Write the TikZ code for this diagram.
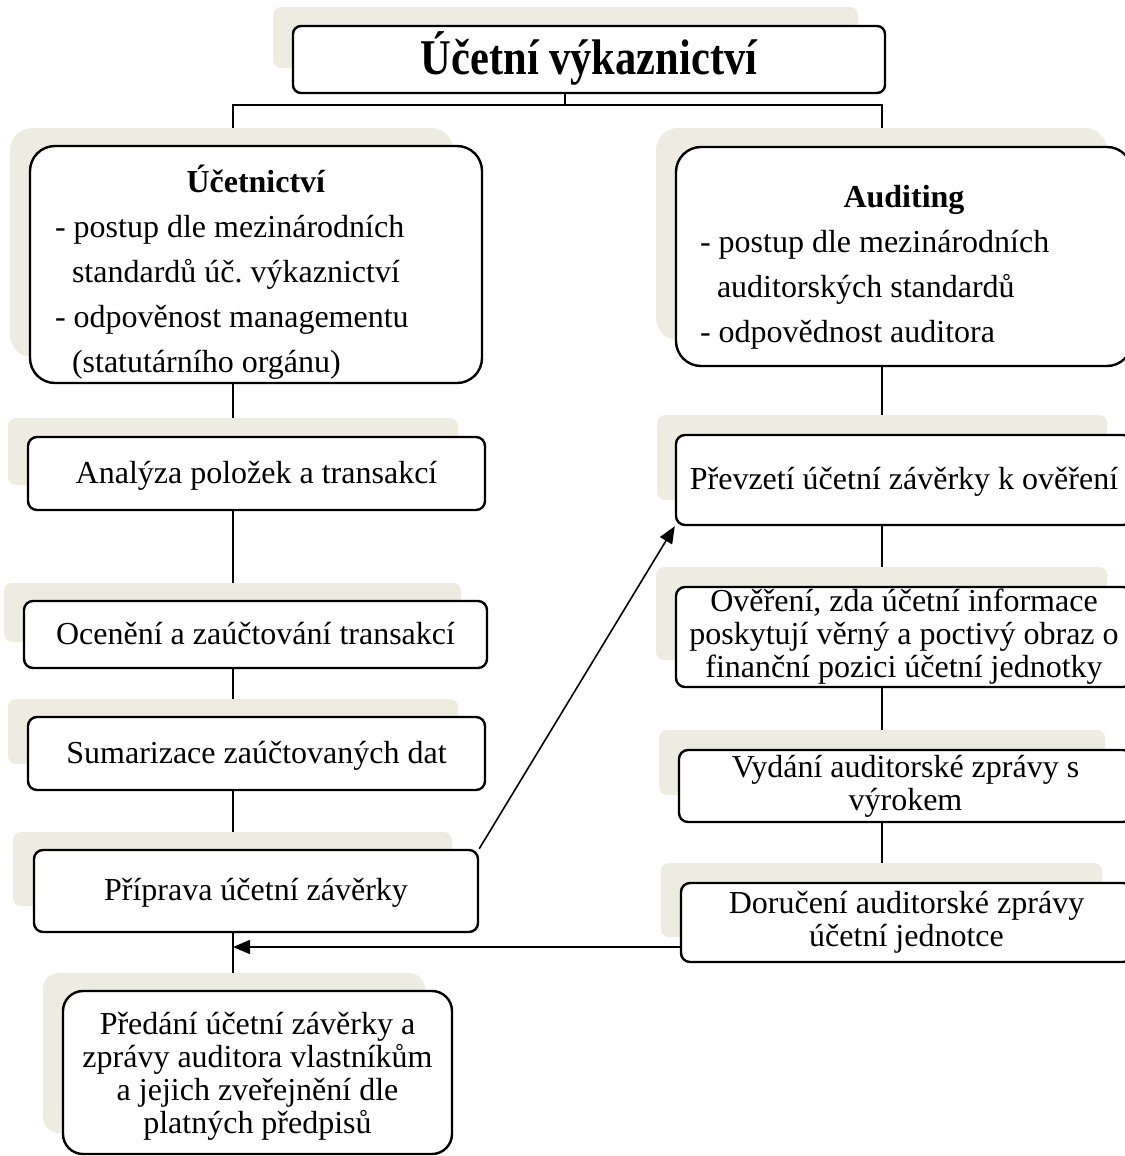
\documentclass[tikz,border=0pt]{standalone}
\usepackage{fontspec}
\usepackage{graphicx}
\setmainfont{Liberation Serif}
\usetikzlibrary{arrows.meta}
\definecolor{shade}{HTML}{EEECE1}
\pgfdeclarelayer{lines}
\pgfdeclarelayer{shades}
\pgfsetlayers{lines,shades,main}
\frenchspacing
\begin{document}
\begin{tikzpicture}[x=1pt,y=-1pt,
  box/.style={draw=black, line width=2.4pt, fill=white, rounded corners=9pt,
    inner sep=0pt, font=\fontsize{32}{33}\selectfont, align=center},
  oneline/.style={text height=26pt, text depth=7pt},
  shadowbox/.style={fill=shade, rounded corners=8pt},
  conn/.style={line width=2.2pt},
  arr/.style={line width=1.6pt, -{Triangle[length=17pt,width=14pt]}},
]
\useasboundingbox (0,0) rectangle (1124,1156);

% title
\node[box, rounded corners=8pt, minimum width=592pt, minimum height=67pt,
      text height=42pt, text depth=12pt, font=\fontsize{50}{52}\selectfont\bfseries]
  (title) at (589,59.5) {\scalebox{0.85}[1]{Účetní výkaznictví}};

% left column
\node[box, rounded corners=25pt, minimum width=452pt, minimum height=235pt,
      text width=402pt, align=flush left, font=\fontsize{32}{45}\selectfont\frenchspacing,
      text height=46pt, text depth=191pt]
  (ucet) at (256,264.5)
  {\hfill\textbf{Účetnictví}\hfill\null\\
   - postup dle mezinárodních\\
   \hspace*{17pt}standardů úč. výkaznictví\\
   - odpověnost managementu\\
   \hspace*{17pt}(statutárního orgánu)};
\node[box, oneline, minimum width=457pt, minimum height=73pt] (anal) at (256.5,473.5)
  {Analýza položek a transakcí};
\node[box, oneline, minimum width=463pt, minimum height=67pt] (ocen) at (255.5,634.5)
  {Ocenění a zaúčtování transakcí};
\node[box, oneline, minimum width=457pt, minimum height=73pt] (sum) at (256.5,753.5)
  {Sumarizace zaúčtovaných dat};
\node[box, oneline, minimum width=444pt, minimum height=82pt] (prip) at (256,891)
  {Příprava účetní závěrky};
\node[box, rounded corners=20pt, minimum width=389pt, minimum height=163pt] (pred) at (257.5,1072.5)
  {\rule{0pt}{30pt}Předání účetní závěrky a\\zprávy auditora vlastníkům\\a jejich zveřejnění dle\\platných předpisů};

% right column
\node[box, rounded corners=25pt, minimum width=456pt, minimum height=219pt,
      text width=408pt, align=flush left, font=\fontsize{32}{45}\selectfont\frenchspacing,
      text height=46pt, text depth=145pt]
  (aud) at (904,256.5)
  {\hfill\textbf{Auditing}\hfill\null\\
   - postup dle mezinárodních\\
   \hspace*{17pt}auditorských standardů\\
   - odpovědnost auditora};
\node[box, oneline, minimum width=456pt, minimum height=90pt] (prev) at (904,480)
  {Převzetí účetní závěrky k ověření};
\node[box, minimum width=456pt, minimum height=100pt] (over) at (904,637)
  {Ověření, zda účetní informace\\poskytují věrný a poctivý obraz o\\finanční pozici účetní jednotky};
\node[box, minimum width=453pt, minimum height=72pt] (vyd) at (905.5,786)
  {Vydání auditorské zprávy s\\výrokem};
\node[box, minimum width=451pt, minimum height=79pt] (dor) at (906.5,922.5)
  {Doručení auditorské zprávy\\účetní jednotce};

% helper coordinates
\coordinate (colL) at (233,0);
\coordinate (colR) at (882,0);
\coordinate (tj) at (565,105);
\coordinate (ae) at (233,947);

% shadows
\begin{pgfonlayer}{shades}
  \fill[shadowbox] (273,7) rectangle (858,68);
  \fill[shadowbox, rounded corners=22pt] (10,128) rectangle (453,357);
  \fill[shadowbox] (8,418) rectangle (458,485);
  \fill[shadowbox] (4,583) rectangle (461,642);
  \fill[shadowbox] (8,699) rectangle (458,764);
  \fill[shadowbox] (13,832) rectangle (452,906);
  \fill[shadowbox, rounded corners=16pt] (43,973) rectangle (425,1133);
  \fill[shadowbox, rounded corners=22pt] (656,128) rectangle (1107,340);
  \fill[shadowbox] (657,415) rectangle (1107,500);
  \fill[shadowbox] (656,567) rectangle (1107,660);
  \fill[shadowbox] (659,730) rectangle (1105,795);
  \fill[shadowbox] (661,863) rectangle (1102,937);
\end{pgfonlayer}

% connectors
\begin{pgfonlayer}{lines}
  \draw[conn] (tj |- title.south) -- (tj);
  \draw[conn] (colL |- ucet.north) -- (colL |- tj) -- (colR |- tj) -- (colR |- aud.north);
  \draw[conn] (colL |- ucet.south) -- (colL |- anal.north);
  \draw[conn] (colL |- anal.south) -- (colL |- ocen.north);
  \draw[conn] (colL |- ocen.south) -- (colL |- sum.north);
  \draw[conn] (colL |- sum.south) -- (colL |- prip.north);
  \draw[conn] (colL |- prip.south) -- (colL |- pred.north);
  \draw[conn] (colR |- aud.south) -- (colR |- prev.north);
  \draw[conn] (colR |- prev.south) -- (colR |- over.north);
  \draw[conn] (colR |- over.south) -- (colR |- vyd.north);
  \draw[conn] (colR |- vyd.south) -- (colR |- dor.north);
\end{pgfonlayer}

% arrows
\draw[arr] (prip.north east) -- (prev.south west);
\draw[arr] (ae -| dor.west) -- (ae);
\end{tikzpicture}
\end{document}
